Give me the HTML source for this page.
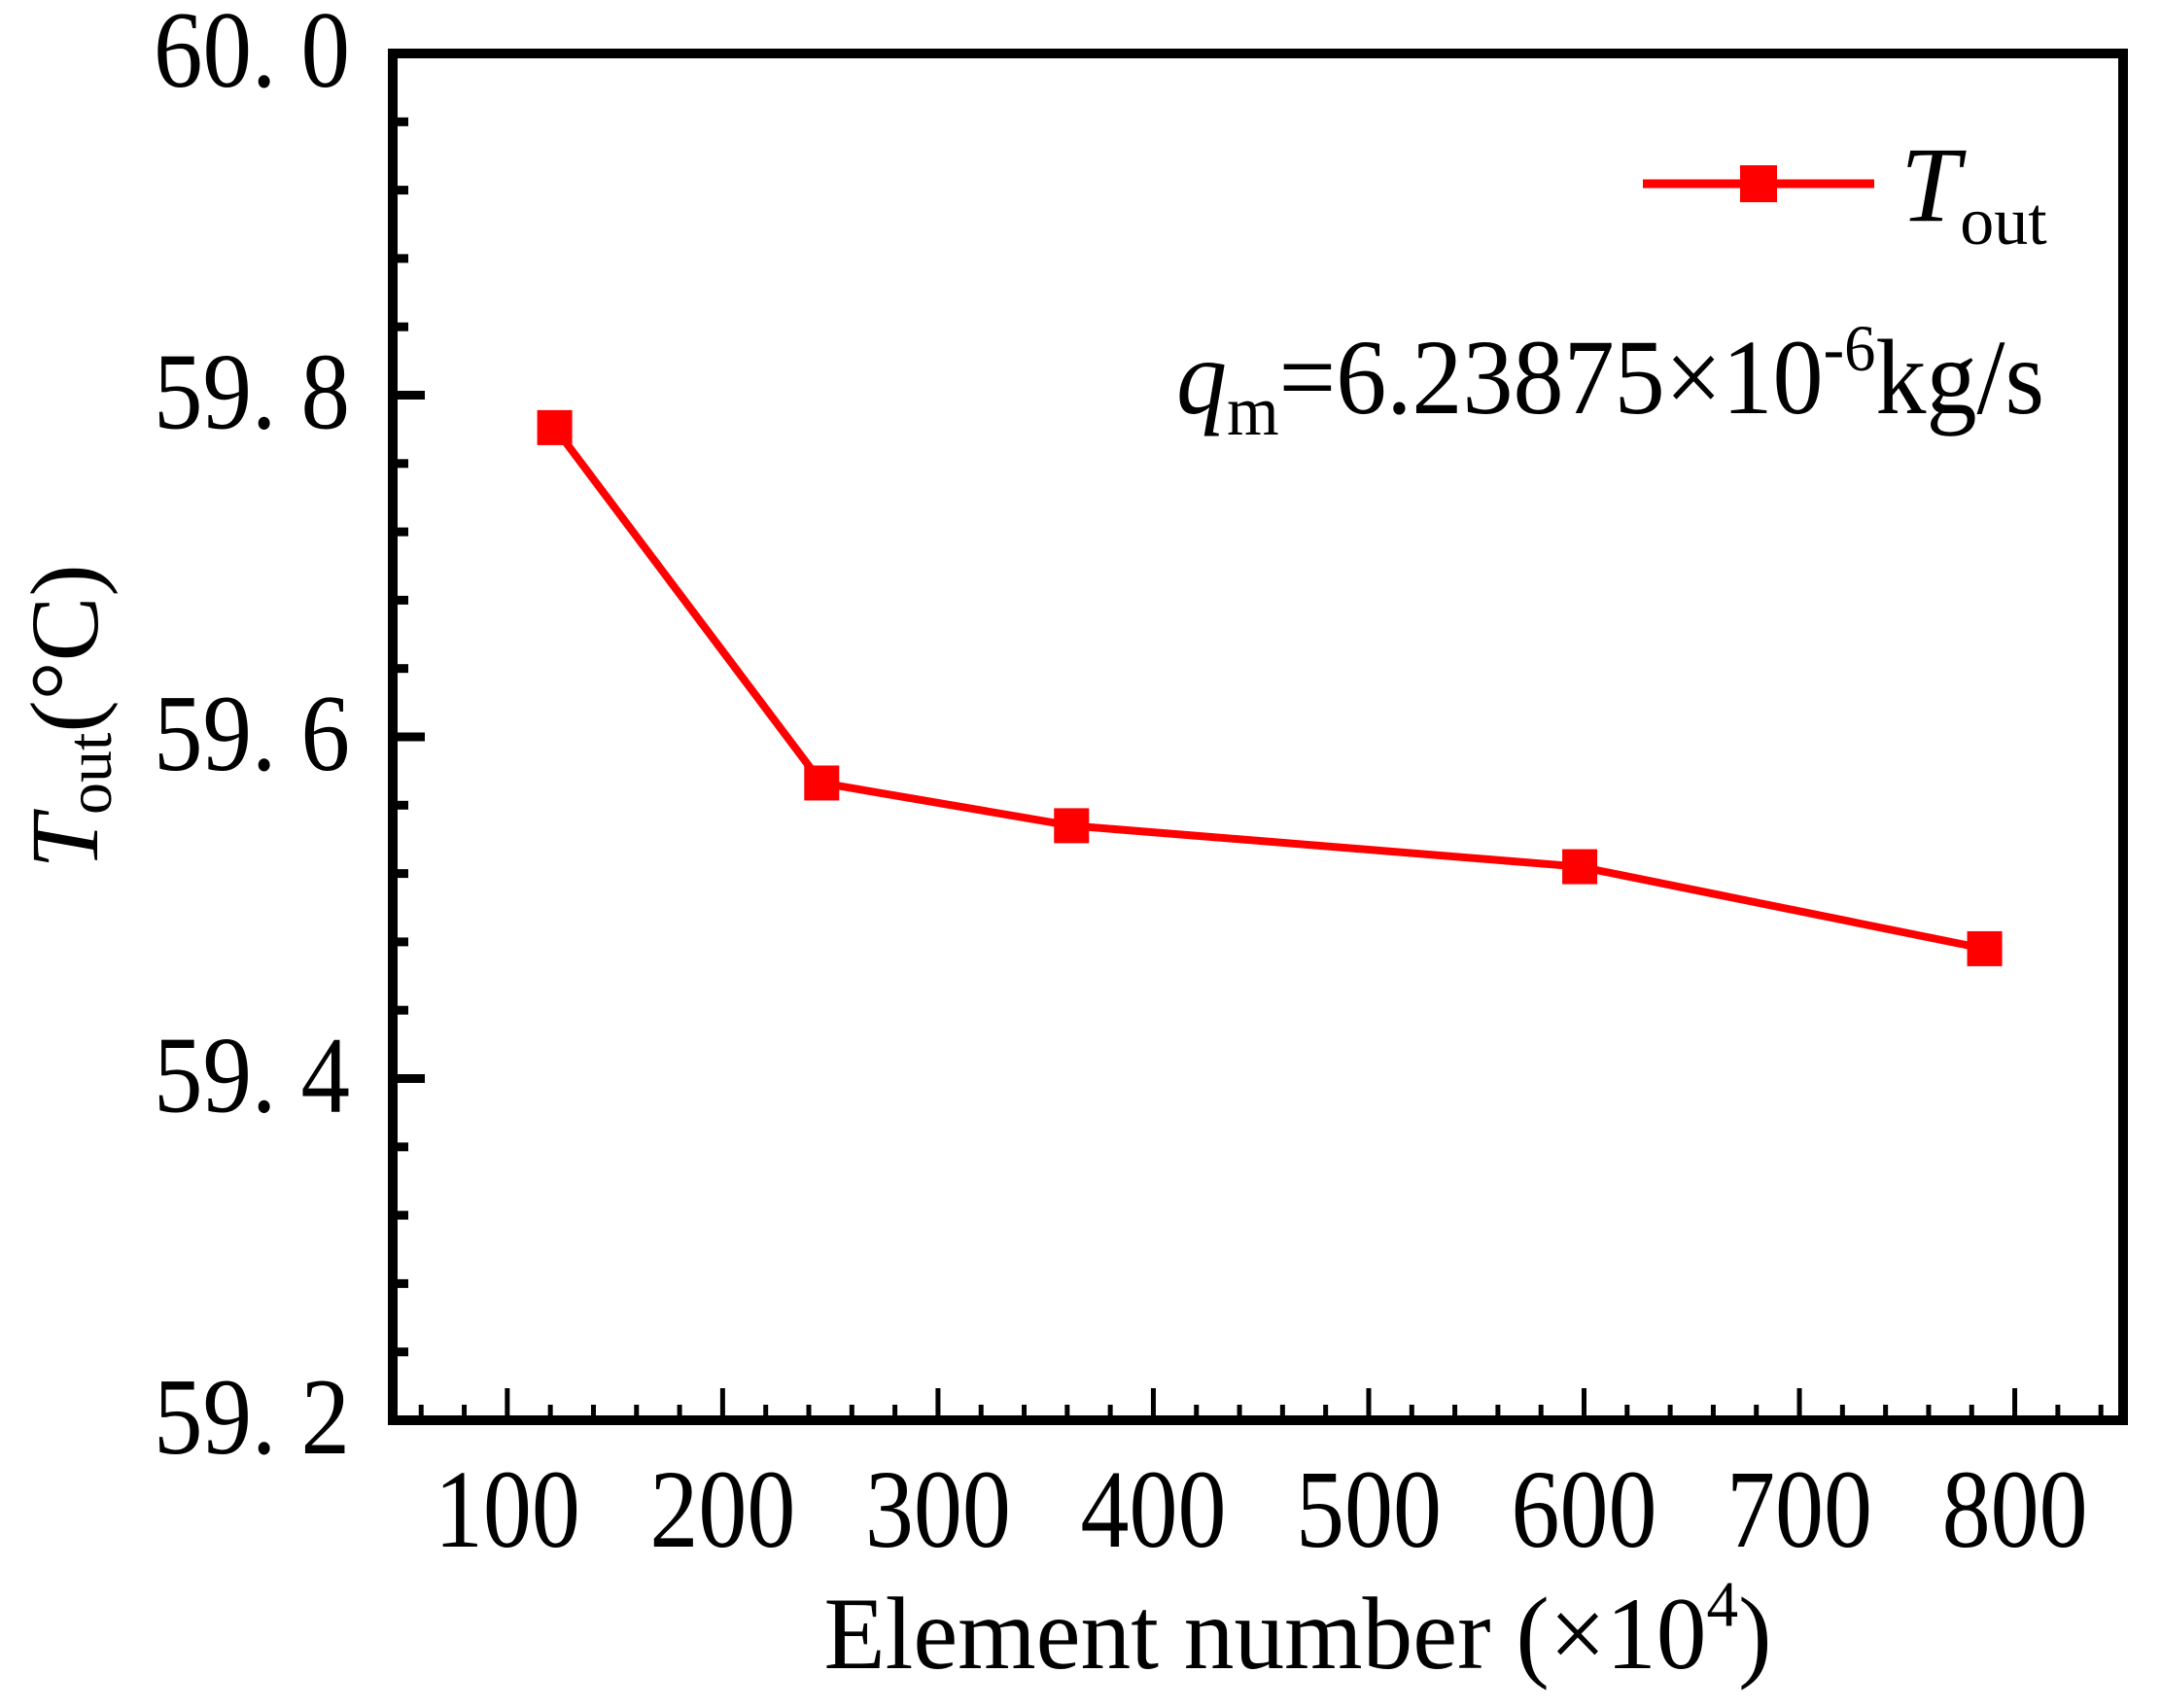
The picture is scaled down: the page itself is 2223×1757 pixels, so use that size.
<!DOCTYPE html>
<html><head><meta charset="utf-8"><style>
html,body{margin:0;padding:0;background:#fff;}
svg{display:block;}
text{font-family:"Liberation Serif",serif;fill:#000;}
</style></head><body>
<svg id="chart" width="2223" height="1757" viewBox="0 0 2223 1757" xmlns="http://www.w3.org/2000/svg">
<g id="axes"></g>
<g id="series"></g>
<text transform="translate(100,737) rotate(-90)" text-anchor="middle" font-size="100"><tspan font-style="italic">T</tspan><tspan font-size="66" dy="14">out</tspan><tspan dy="-14">(°C)</tspan></text>
<g transform="translate(0,1716) scale(1,1.15)">
<text x="1335" y="0" text-anchor="middle" font-size="92" textLength="975" lengthAdjust="spacingAndGlyphs">Element number (×10<tspan font-size="58" dy="-38">4</tspan><tspan dy="38">)</tspan></text>
</g>
<g>
<line x1="1690" y1="189" x2="1928" y2="189" stroke="#ff0000" stroke-width="9"/>
<rect x="1790" y="170" width="38" height="38" fill="#ff0000"/>
<text x="1955" y="227" font-size="110"><tspan font-style="italic">T</tspan><tspan font-size="70" dy="24">out</tspan></text>
</g>
<g transform="translate(0,425) scale(1,1.1)">
<text x="1210" y="0" font-size="100" textLength="893" lengthAdjust="spacingAndGlyphs"><tspan font-style="italic">q</tspan><tspan font-size="66" dy="20">m</tspan><tspan dy="-20">=6.23875×10</tspan><tspan font-size="62" dy="-40">-6</tspan><tspan dy="40">kg/s</tspan></text>
</g>
</svg>
<script>
const categories=[122,246,362,598,786];
const toutValues=[59.781,59.573,59.548,59.524,59.476];
const xTickLabels=["100","200","300","400","500","600","700","800"];
const yTickLabels=["59. 2","59. 4","59. 6","59. 8","60. 0"];
const xTickValues=[100,200,300,400,500,600,700,800];
const yTickValues=[59.2,59.4,59.6,59.8,60.0];

const L=404,R=2184,T=55,B=1461;
const xMin=46.8,xMax=850.3,yMin=59.2,yMax=60.0;
const xs=v=>L+(v-xMin)/(xMax-xMin)*(R-L);
const ys=v=>B-(v-yMin)/(yMax-yMin)*(B-T);
const NS="http://www.w3.org/2000/svg";
function mk(tag,parent,attrs){const e=document.createElementNS(NS,tag);for(const k in attrs)e.setAttribute(k,attrs[k]);parent.appendChild(e);return e;}
const axes=document.getElementById('axes');
for(let v=60;v<=840;v+=20){
  const major=v%100===0;
  const t=mk('line',axes,{x1:xs(v),x2:xs(v),y1:B,y2:B-(major?33:16),stroke:'#000','stroke-width':5});
  
  
}
for(let i=0;i<=20;i++){
  const v=59.2+i*0.04;
  const major=i%5===0;
  const t=mk('line',axes,{x1:L,x2:L+(major?33:16),y1:ys(v),y2:ys(v),stroke:'#000','stroke-width':9});
  
  
}
const frame=mk('rect',axes,{x:L,y:T,width:R-L,height:B-T,fill:'none',stroke:'#000','stroke-width':10});


xTickValues.forEach((v,i)=>{
  const g=mk('g',axes,{transform:'translate('+xs(v)+',1591) scale(1,1.3)'});
  const t=mk('text',g,{x:0,y:0,'text-anchor':'middle','font-size':88,textLength:150,lengthAdjust:'spacingAndGlyphs'});
  t.textContent=xTickLabels[i];
  
  
});
yTickValues.forEach((v,i)=>{
  const g=mk('g',axes,{transform:'translate(360,'+(ys(v)+34)+') scale(1,1.12)'});
  const t=mk('text',g,{x:0,y:0,'text-anchor':'end','font-size':100,textLength:202,lengthAdjust:'spacingAndGlyphs'});
  t.textContent=yTickLabels[i];
  
  
});
const series=document.getElementById('series');
const pts=categories.map((c,i)=>xs(c)+','+ys(toutValues[i])).join(' ');
const line=mk('polyline',series,{points:pts,fill:'none',stroke:'#ff0000','stroke-width':8,'stroke-linejoin':'miter'});


categories.forEach((c,i)=>{
  const m=mk('rect',series,{x:xs(c)-18,y:ys(toutValues[i])-18,width:36,height:36,fill:'#ff0000'});
  
  
});
</script>
</body></html>
